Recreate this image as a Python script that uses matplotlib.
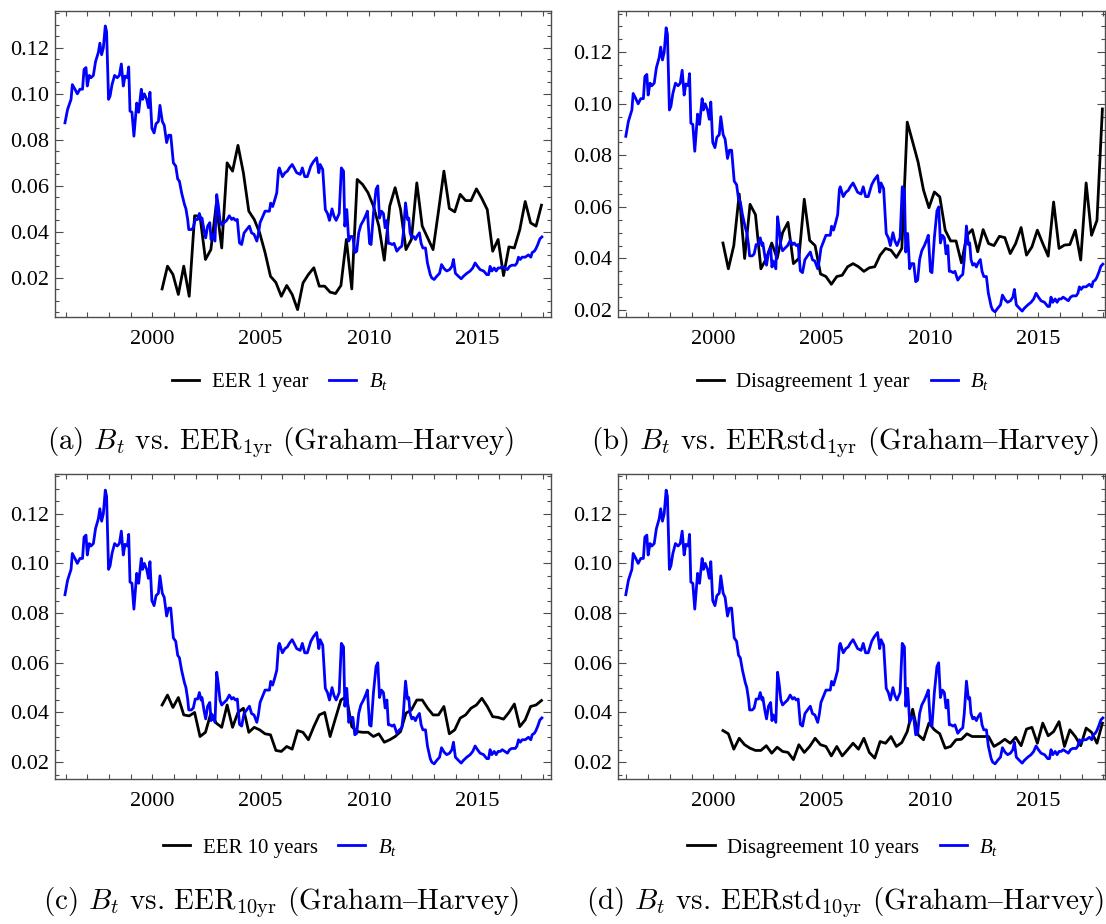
import matplotlib
matplotlib.use("Agg")
import matplotlib.pyplot as plt
from matplotlib.ticker import FixedLocator, MultipleLocator, FuncFormatter, FormatStrFormatter
import numpy as np

plt.rcParams['font.family'] = ['Liberation Serif', 'DejaVu Serif']
plt.rcParams['mathtext.fontset'] = 'custom'
plt.rcParams['mathtext.rm'] = 'Liberation Serif'
plt.rcParams['mathtext.it'] = 'Liberation Serif:italic'

# B_t, blue line (same in every panel)
bt_year = [1995.97, 1996.09, 1996.25, 1996.31, 1996.43, 1996.54, 1996.66, 1996.78, 1996.85, 1996.94,
           1997.0, 1997.09, 1997.17, 1997.28, 1997.38, 1997.51, 1997.58, 1997.66, 1997.74, 1997.83,
           1997.89, 1997.98, 1998.05, 1998.14, 1998.26, 1998.38, 1998.48, 1998.57, 1998.66, 1998.74,
           1998.85, 1998.91, 1998.97, 1999.06, 1999.15, 1999.28, 1999.37, 1999.49, 1999.55, 1999.63,
           1999.74, 1999.82, 1999.89, 1999.98, 2000.08, 2000.17, 2000.28, 2000.35, 2000.46, 2000.55,
           2000.66, 2000.75, 2000.85, 2000.97, 2001.08, 2001.17, 2001.25, 2001.35, 2001.48, 2001.55,
           2001.63, 2001.68, 2001.8, 2001.89, 2001.98, 2002.09, 2002.17, 2002.25, 2002.29, 2002.38,
           2002.46, 2002.55, 2002.65, 2002.71, 2002.77, 2002.89, 2002.97, 2003.05, 2003.12, 2003.2,
           2003.31, 2003.43, 2003.55, 2003.66, 2003.74, 2003.83, 2003.92, 2004.02, 2004.12, 2004.23,
           2004.35, 2004.48, 2004.58, 2004.69, 2004.82, 2004.89, 2004.97, 2005.06, 2005.2, 2005.4,
           2005.46, 2005.55, 2005.65, 2005.74, 2005.82, 2005.86, 2006.0, 2006.12, 2006.23, 2006.32,
           2006.45, 2006.54, 2006.66, 2006.82, 2006.92, 2007.03, 2007.15, 2007.31, 2007.43, 2007.58,
           2007.68, 2007.74, 2007.86, 2007.98, 2008.08, 2008.17, 2008.29, 2008.38, 2008.48, 2008.62,
           2008.72, 2008.82, 2008.88, 2008.97, 2009.06, 2009.15, 2009.25, 2009.34, 2009.43, 2009.52,
           2009.62, 2009.74, 2009.86, 2009.92, 2010.02, 2010.09, 2010.2, 2010.32, 2010.4, 2010.48,
           2010.57, 2010.66, 2010.74, 2010.82, 2010.89, 2010.97, 2011.06, 2011.15, 2011.28, 2011.4,
           2011.51, 2011.58, 2011.68, 2011.77, 2011.83, 2011.89, 2011.97, 2012.05, 2012.14, 2012.2,
           2012.32, 2012.4, 2012.48, 2012.6, 2012.69, 2012.82, 2012.89, 2013.0, 2013.12, 2013.25,
           2013.34, 2013.46, 2013.58, 2013.71, 2013.82, 2013.89, 2013.98, 2014.12, 2014.25, 2014.35,
           2014.51, 2014.66, 2014.78, 2014.89, 2015.0, 2015.12, 2015.28, 2015.43, 2015.51, 2015.58,
           2015.66, 2015.77, 2015.86, 2015.95, 2016.05, 2016.14, 2016.26, 2016.38, 2016.48, 2016.58,
           2016.74, 2016.82, 2016.89, 2016.97, 2017.06, 2017.2, 2017.35, 2017.46, 2017.52, 2017.62,
           2017.69, 2017.78, 2017.88, 2017.97]
bt_val = [0.0874, 0.0932, 0.0976, 0.104, 0.102, 0.100, 0.102, 0.102, 0.1106, 0.1114,
          0.1034, 0.108, 0.107, 0.108, 0.114, 0.118, 0.122, 0.117, 0.120, 0.1295,
          0.127, 0.0976, 0.099, 0.104, 0.108, 0.107, 0.108, 0.113, 0.1034, 0.1077,
          0.107, 0.1117, 0.0925, 0.092, 0.0816, 0.096, 0.092, 0.102, 0.0976, 0.100,
          0.0976, 0.094, 0.1007, 0.085, 0.083, 0.087, 0.088, 0.095, 0.088, 0.0863,
          0.0788, 0.082, 0.082, 0.070, 0.0686, 0.063, 0.062, 0.057, 0.052, 0.050,
          0.0454, 0.041, 0.041, 0.0418, 0.0454, 0.0454, 0.048, 0.045, 0.046, 0.041,
          0.0374, 0.0425, 0.044, 0.0367, 0.039, 0.036, 0.0562, 0.051, 0.045, 0.043,
          0.044, 0.045, 0.047, 0.0454, 0.046, 0.045, 0.0454, 0.0352, 0.0345, 0.0395,
          0.041, 0.0425, 0.0395, 0.039, 0.036, 0.039, 0.044, 0.046, 0.049, 0.049,
          0.0525, 0.051, 0.054, 0.057, 0.0668, 0.0678, 0.064, 0.0657, 0.0664, 0.0678,
          0.0693, 0.0678, 0.0657, 0.065, 0.0678, 0.064, 0.064, 0.0686, 0.0705, 0.0722,
          0.0657, 0.0693, 0.0671, 0.0497, 0.048, 0.045, 0.050, 0.0468, 0.045, 0.048,
          0.0678, 0.0664, 0.0425, 0.0497, 0.036, 0.038, 0.038, 0.031, 0.0316, 0.0396,
          0.043, 0.045, 0.0475, 0.049, 0.035, 0.0345, 0.048, 0.0585, 0.060, 0.046,
          0.049, 0.048, 0.0418, 0.045, 0.035, 0.035, 0.0345, 0.035, 0.0316, 0.033,
          0.0338, 0.0396, 0.0526, 0.0454, 0.046, 0.0396, 0.0374, 0.038, 0.0367, 0.038,
          0.0396, 0.035, 0.033, 0.033, 0.0265, 0.0214, 0.020, 0.0193, 0.0207, 0.022,
          0.0258, 0.024, 0.023, 0.0236, 0.025, 0.028, 0.022, 0.0207, 0.0196, 0.0207,
          0.022, 0.023, 0.0243, 0.0265, 0.025, 0.0236, 0.023, 0.0214, 0.0214, 0.025,
          0.023, 0.0243, 0.023, 0.0243, 0.0243, 0.025, 0.0243, 0.0236, 0.025, 0.0255,
          0.0255, 0.0265, 0.029, 0.028, 0.029, 0.029, 0.030, 0.029, 0.031, 0.0316,
          0.0326, 0.0345, 0.037, 0.0378]

# Graham-Harvey survey, quarterly from mid-2000
survey_year = np.arange(71) * 0.25 + 2000.45

eer_1yr = [0.0152, 0.0251, 0.0215, 0.0128, 0.0251, 0.012, 0.047, 0.0468, 0.028, 0.0323,
           0.052, 0.033, 0.070, 0.0664, 0.0776, 0.0657, 0.049, 0.0454, 0.0396, 0.031,
           0.0207, 0.018, 0.012, 0.0167, 0.0128, 0.0062, 0.0178, 0.0215, 0.0244, 0.0164,
           0.0164, 0.0138, 0.0132, 0.0167, 0.0367, 0.0152, 0.0628, 0.0606, 0.057, 0.0512,
           0.0425, 0.0277, 0.0512, 0.0592, 0.0497, 0.0323, 0.0367, 0.0613, 0.0425, 0.0374,
           0.0323, 0.049, 0.0664, 0.0502, 0.0487, 0.0563, 0.0536, 0.0536, 0.0587, 0.0545,
           0.0497, 0.0316, 0.0367, 0.021, 0.0335, 0.033, 0.041, 0.0532, 0.0439, 0.0425,
           0.0516]

disagree_1yr = [0.046, 0.036, 0.045, 0.065, 0.040, 0.061, 0.057, 0.036, 0.040, 0.046,
                0.040, 0.050, 0.054, 0.038, 0.040, 0.063, 0.047, 0.045, 0.034, 0.033,
                0.030, 0.033, 0.0335, 0.0368, 0.038, 0.0368, 0.035, 0.0364, 0.0368, 0.0413,
                0.0439, 0.0432, 0.0404, 0.0439, 0.0929, 0.0852, 0.0774, 0.0665, 0.0597, 0.0658,
                0.0639, 0.051, 0.0468, 0.0468, 0.0383, 0.049, 0.0512, 0.0426, 0.0512, 0.0458,
                0.045, 0.0486, 0.0481, 0.0419, 0.0458, 0.052, 0.0413, 0.0445, 0.051, 0.0458,
                0.0409, 0.0619, 0.0439, 0.0452, 0.0454, 0.051, 0.0394, 0.0693, 0.049, 0.0548,
                0.098]

eer_10yr = [0.043, 0.047, 0.042, 0.046, 0.039, 0.0386, 0.040, 0.0303, 0.032, 0.0397,
            0.0357, 0.034, 0.043, 0.034, 0.040, 0.0417, 0.032, 0.034, 0.033, 0.0314,
            0.031, 0.0247, 0.0243, 0.0263, 0.0252, 0.0327, 0.032, 0.029, 0.0343, 0.039,
            0.040, 0.0303, 0.0377, 0.045, 0.0464, 0.0343, 0.0323, 0.032, 0.032, 0.0303,
            0.0314, 0.028, 0.029, 0.0303, 0.0323, 0.0397, 0.041, 0.045, 0.045, 0.0417,
            0.039, 0.039, 0.0424, 0.0314, 0.033, 0.0377, 0.039, 0.0417, 0.043, 0.0457,
            0.0424, 0.0383, 0.038, 0.0373, 0.040, 0.0434, 0.0343, 0.037, 0.0424, 0.043,
            0.0448]

disagree_10yr = [0.0327, 0.0314, 0.0252, 0.0296, 0.027, 0.0256, 0.0247, 0.0247, 0.0266, 0.0236,
                 0.026, 0.0243, 0.0239, 0.021, 0.027, 0.0239, 0.0263, 0.0296, 0.027, 0.0263,
                 0.0225, 0.0263, 0.0225, 0.025, 0.0276, 0.0252, 0.0296, 0.0239, 0.0216, 0.0283,
                 0.0276, 0.0303, 0.0263, 0.0279, 0.0323, 0.0413, 0.031, 0.029, 0.0357, 0.033,
                 0.0314, 0.0256, 0.0263, 0.029, 0.0292, 0.0314, 0.0303, 0.0303, 0.0303, 0.0303,
                 0.0263, 0.0276, 0.0292, 0.0276, 0.03, 0.0266, 0.0333, 0.034, 0.0276, 0.0357,
                 0.0306, 0.0323, 0.0363, 0.0263, 0.033, 0.0303, 0.0266, 0.0337, 0.032, 0.0276,
                 0.0357]

series_names = ['EER 1 year', 'Disagreement 1 year', 'EER 10 years', 'Disagreement 10 years']
series_vals = [eer_1yr, disagree_1yr, eer_10yr, disagree_10yr]
# en dash drawn through mathtext (cmr10 has no usable en dash glyph)
captions = [r'(a) $B_t$ vs. EER$_{\mathrm{1yr}}$ (Graham$\mathrm{–}$Harvey)',
            r'(b) $B_t$ vs. EERstd$_{\mathrm{1yr}}$ (Graham$\mathrm{–}$Harvey)',
            r'(c) $B_t$ vs. EER$_{\mathrm{10yr}}$ (Graham$\mathrm{–}$Harvey)',
            r'(d) $B_t$ vs. EERstd$_{\mathrm{10yr}}$ (Graham$\mathrm{–}$Harvey)']
ylims = [(0.003, 0.136), (0.0173, 0.136), (0.0132, 0.136), (0.0132, 0.136)]
xlims = [(1995.51, 2018.39), (1995.61, 2018.07), (1995.51, 2018.39), (1995.61, 2018.07)]

W, H = 1106, 924
fig = plt.figure(figsize=(W / 100, H / 100), dpi=100)

# axes boxes in pixels: left, top, right, bottom
boxes = [(55, 11, 551, 317), (618, 11, 1105, 317), (55, 474, 551, 779), (618, 474, 1105, 779)]
legend_pos = [(280, 382), (843, 382), (280, 847), (843, 847)]
caption_pos = [(281, 443), (845, 443), (281, 903), (845, 903)]

frame_col = '#4d4d4d'
for i in range(4):
    l, t, r, b = boxes[i]
    ax = fig.add_axes([l / W, 1 - b / H, (r - l) / W, (b - t) / H])
    ln_k, = ax.plot(survey_year, series_vals[i], color='black', lw=2.0, label=series_names[i])
    ln_b, = ax.plot(bt_year, bt_val, color='#0000ff', lw=2.0, label=r'$B_t$')
    ax.set_xlim(*xlims[i])
    ax.set_ylim(*ylims[i])

    ax.xaxis.set_major_locator(FixedLocator(list(range(1996, 2019))))
    ax.xaxis.set_major_formatter(FuncFormatter(lambda v, p: f'{int(round(v))}' if round(v) % 5 == 0 else ''))
    ax.yaxis.set_major_locator(FixedLocator([0.02, 0.04, 0.06, 0.08, 0.10, 0.12]))
    ax.yaxis.set_minor_locator(MultipleLocator(0.005))
    ax.yaxis.set_major_formatter(FormatStrFormatter('%.2f'))
    ax.tick_params(axis='both', which='both', direction='in', top=True, right=True,
                   color=frame_col, labelsize=16, width=0.8)
    ax.tick_params(axis='x', which='major', length=3.5, pad=9)
    ax.tick_params(axis='y', which='major', length=5.5, pad=4)
    ax.tick_params(axis='y', which='minor', length=3)
    for sp in ax.spines.values():
        sp.set_color(frame_col)
        sp.set_linewidth(1.0)

    lx, ly = legend_pos[i]
    fig.legend(handles=[ln_k, ln_b], loc='center', bbox_to_anchor=(lx / W, 1 - ly / H),
               ncol=2, frameon=False, fontsize=15, handlelength=1.3, handletextpad=0.6,
               columnspacing=1.0)

    cx, cy = caption_pos[i]
    fig.text(cx / W, 1 - cy / H, captions[i], ha='center', va='center', fontsize=21,
             family=['cmr10', 'DejaVu Serif'], math_fontfamily='cm')

fig.savefig('out.png', dpi=100)
